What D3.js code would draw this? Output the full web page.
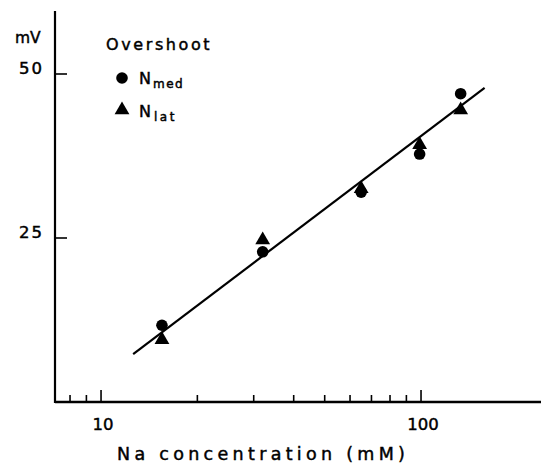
<!DOCTYPE html>
<html>
<head>
<meta charset="utf-8">
<script src="https://cdn.jsdelivr.net/npm/d3@7"></script>
<style>
  body { margin: 0; background: #fff; }
  text { font-family: "DejaVu Sans", sans-serif; fill: #000; stroke: #000; stroke-width: 0.45px; }
</style>
</head>
<body>
<div id="chart"></div>
<script>
// Overshoot amplitude vs Na concentration
const concentration = [15.5, 32, 65, 99, 133];   // mM
const overshootMed = [11.7, 22.9, 32.0, 37.8, 47.0]; // mV, N med (circles)
const overshootLat = [9.5, 24.7, 32.5, 39.2, 44.5];  // mV, N lat (triangles)
const fitConc = [12.6, 158];
const fitMv = [7.3, 47.9];
const yTicks = [25, 50];
const xLabelTicks = [10, 100];
const xMinorTicks = [8, 9, 20, 30, 40, 50, 60, 70, 80, 90];

const width = 541, height = 465;

const svg = d3.select('#chart').append('svg')
  .attr('width', width)
  .attr('height', height);

// scales
var x = d3.scaleLog()
  .domain([7.18, 237.1])
  .range([55, 541]);
var y = d3.scaleLinear()
  .domain([0, 60])
  .range([402, 8.4]);

// axes lines
svg.append('line')
  .attr('x1', x.range()[0]).attr('x2', x.range()[1])
  .attr('y1', y(0)).attr('y2', y(0))
  .style('stroke', '#000').style('stroke-width', 2.5);
svg.append('line')
  .attr('x1', x.range()[0]).attr('x2', x.range()[0])
  .attr('y1', y(0) + 1).attr('y2', y(59.6))
  .style('stroke', '#000').style('stroke-width', 2.2);

// x ticks (pointing inward)
svg.selectAll('.xmajor')
  .data(xLabelTicks)
  .enter().append('line')
  .attr('class', 'xmajor')
  .attr('x1', d => x(d)).attr('x2', d => x(d))
  .attr('y1', y(0)).attr('y2', y(0) - 12)
  .style('stroke', '#000').style('stroke-width', 1.6);
svg.selectAll('.xminor')
  .data(xMinorTicks)
  .enter().append('line')
  .attr('class', 'xminor')
  .attr('x1', d => x(d)).attr('x2', d => x(d))
  .attr('y1', y(0)).attr('y2', y(0) - 7)
  .style('stroke', '#000').style('stroke-width', 1.6);

svg.selectAll('.xlabel')
  .data(xLabelTicks)
  .enter().append('text')
  .attr('class', 'xlabel')
  .attr('x', d => x(d) + 2)
  .attr('y', 430)
  .attr('text-anchor', 'middle')
  .style('font-size', '16.5px')
  .text(d => d);

// y ticks
svg.selectAll('.ytick')
  .data(yTicks)
  .enter().append('line')
  .attr('class', 'ytick')
  .attr('x1', x.range()[0]).attr('x2', x.range()[0] + 12)
  .attr('y1', d => y(d)).attr('y2', d => y(d))
  .style('stroke', '#000').style('stroke-width', 1.6);

svg.selectAll('.ylabel')
  .data(yTicks)
  .enter().append('text')
  .attr('class', 'ylabel')
  .attr('x', 44)
  .attr('y', d => y(d))
  .attr('text-anchor', 'end')
  .style('font-size', '16.5px')
  .style('letter-spacing', '2px')
  .text(d => d);

svg.append('text')
  .attr('x', 15).attr('y', 43)
  .style('font-size', '15.5px')
  .text('mV');

svg.append('text')
  .attr('x', 117).attr('y', 460)
  .style('font-size', '17.5px')
  .style('letter-spacing', '4.3px')
  .text('Na concentration (mM)');

// regression line
var fit = fitConc.map((c, i) => [x(c), y(fitMv[i])]);
svg.append('path')
  .attr('d', d3.line()(fit))
  .style('stroke', '#000')
  .style('stroke-width', 2.2)
  .style('fill', 'none');

// data points
var triangle = d3.symbol().type(d3.symbolTriangle).size(95);
svg.selectAll('.lat')
  .data(concentration)
  .enter().append('path')
  .attr('class', 'lat')
  .attr('transform', (d, i) => 'translate(' + x(d) + ',' + y(overshootLat[i]) + ')')
  .attr('d', triangle)
  .style('fill', '#000');

svg.selectAll('.med')
  .data(concentration)
  .enter().append('circle')
  .attr('class', 'med')
  .attr('cx', d => x(d))
  .attr('cy', (d, i) => y(overshootMed[i]))
  .attr('r', 5.8)
  .style('fill', '#000');

// legend
svg.append('text')
  .attr('x', 106).attr('y', 50)
  .style('font-size', '16px')
  .style('letter-spacing', '2.6px')
  .text('Overshoot');

svg.append('circle')
  .attr('cx', 122).attr('cy', 78).attr('r', 5.8)
  .style('fill', '#000');
svg.append('path')
  .attr('transform', 'translate(122,110)')
  .attr('d', triangle)
  .style('fill', '#000');

var med = svg.append('text').attr('x', 139).attr('y', 84).style('font-size', '16px');
med.append('tspan').text('N');
med.append('tspan').attr('dx', 2).attr('dy', 4).style('font-size', '12px').style('letter-spacing', '1.5px').text('med');

var lat = svg.append('text').attr('x', 139).attr('y', 117).style('font-size', '16px');
lat.append('tspan').text('N');
lat.append('tspan').attr('dx', 3).attr('dy', 4).style('font-size', '12px').style('letter-spacing', '2.5px').text('lat');
</script>
</body>
</html>
